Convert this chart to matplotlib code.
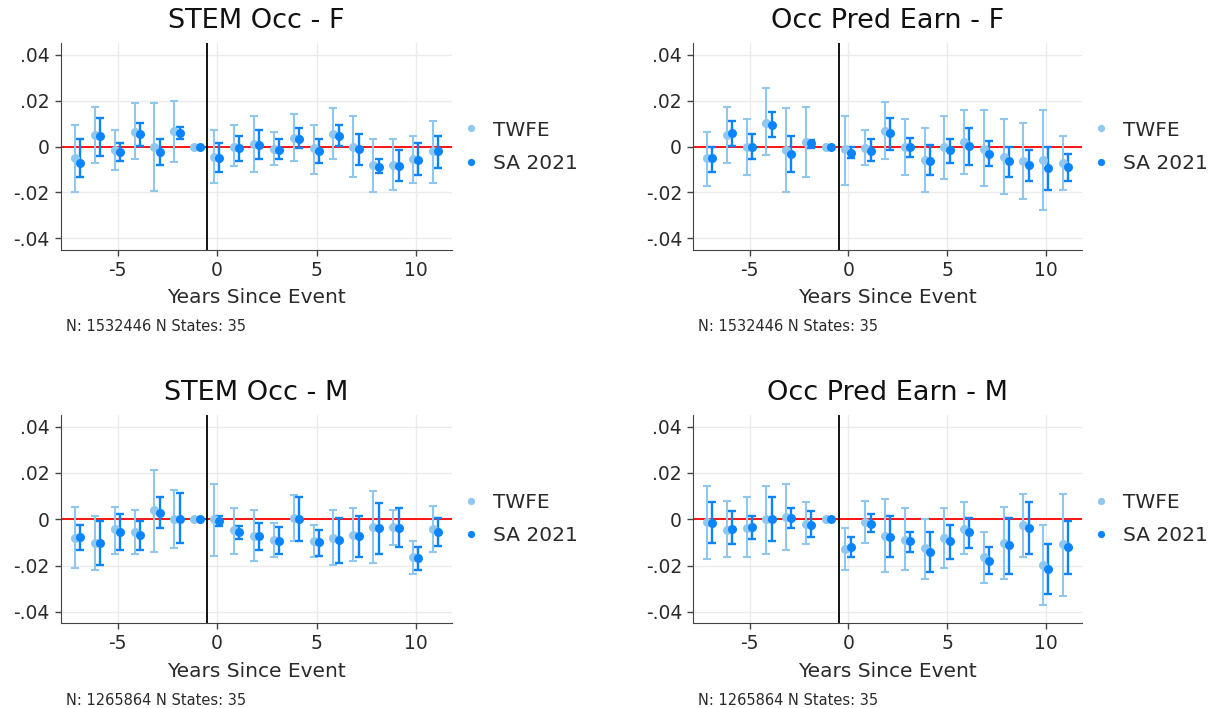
import numpy as np
import matplotlib
matplotlib.use("Agg")
import matplotlib.pyplot as plt

plt.rcParams["axes.unicode_minus"] = False

# event time: -1 is the omitted reference period
event_time = np.arange(-7, 12)

# ---- STEM Occ - F ----
stem_f_twfe = [-0.0051, 0.0050, -0.0013, 0.0064, -0.0003, 0.0066, 0.0, -0.0044, 0.0000, 0.0012,
               -0.0009, 0.0037, -0.0007, 0.0056, -0.0004, -0.0082, -0.0080, -0.0056, -0.0020]
stem_f_twfe_lo = [-0.0199, -0.0073, -0.0102, -0.0056, -0.0192, -0.0066, np.nan, -0.0158, -0.0086, -0.0111,
                  -0.0080, -0.0063, -0.0120, -0.0056, -0.0133, -0.0198, -0.0190, -0.0158, -0.0158]
stem_f_twfe_hi = [0.0095, 0.0174, 0.0072, 0.0190, 0.0190, 0.0199, np.nan, 0.0072, 0.0094, 0.0135,
                  0.0063, 0.0140, 0.0095, 0.0167, 0.0133, 0.0032, 0.0032, 0.0047, 0.0111]
stem_f_sa = [-0.0073, 0.0044, -0.0025, 0.0053, -0.0023, 0.0060, 0.0, -0.0048, -0.0008, 0.0007,
             -0.0015, 0.0035, -0.0019, 0.0047, -0.0012, -0.0089, -0.0085, -0.0059, -0.0020]
stem_f_sa_lo = [-0.0133, -0.0040, -0.0063, 0.0001, -0.0079, 0.0035, np.nan, -0.0111, -0.0063, -0.0056,
                -0.0056, -0.0007, -0.0072, 0.0001, -0.0080, -0.0117, -0.0152, -0.0126, -0.0094]
stem_f_sa_hi = [0.0032, 0.0126, 0.0016, 0.0102, 0.0032, 0.0086, np.nan, 0.0016, 0.0047, 0.0072,
                0.0032, 0.0079, 0.0032, 0.0094, 0.0056, -0.0056, -0.0016, 0.0015, 0.0047]

# ---- Occ Pred Earn - F ----
earn_f_twfe = [-0.0051, 0.0051, -0.0004, 0.0104, -0.0015, 0.0020, 0.0, -0.0012, -0.0007, 0.0067,
               0.0000, -0.0060, -0.0004, 0.0018, -0.0009, -0.0044, -0.0063, -0.0060, -0.0073]
earn_f_twfe_lo = [-0.0173, -0.0073, -0.0126, -0.0038, -0.0199, -0.0133, np.nan, -0.0167, -0.0079, -0.0056,
                  -0.0126, -0.0199, -0.0141, -0.0119, -0.0173, -0.0205, -0.0230, -0.0277, -0.0190]
earn_f_twfe_hi = [0.0063, 0.0174, 0.0119, 0.0253, 0.0167, 0.0174, np.nan, 0.0133, 0.0073, 0.0192,
                  0.0119, 0.0079, 0.0135, 0.0158, 0.0158, 0.0119, 0.0102, 0.0158, 0.0047]
earn_f_sa = [-0.0051, 0.0057, -0.0003, 0.0092, -0.0031, 0.0015, 0.0, -0.0026, -0.0019, 0.0057,
             -0.0004, -0.0061, -0.0016, 0.0003, -0.0031, -0.0064, -0.0080, -0.0092, -0.0091]
earn_f_sa_lo = [-0.0111, 0.0003, -0.0056, 0.0040, -0.0110, -0.0007, np.nan, -0.0051, -0.0063, -0.0015,
                -0.0047, -0.0126, -0.0073, -0.0079, -0.0086, -0.0133, -0.0151, -0.0190, -0.0151]
earn_f_sa_hi = [0.0000, 0.0111, 0.0054, 0.0152, 0.0047, 0.0028, np.nan, -0.0003, 0.0034, 0.0126,
                0.0038, 0.0007, 0.0032, 0.0079, 0.0023, 0.0000, -0.0015, 0.0000, -0.0032]

# ---- STEM Occ - M ----
stem_m_twfe = [-0.0079, -0.0104, -0.0044, -0.0053, 0.0039, 0.0001, 0.0, 0.0000, -0.0048, -0.0072,
               -0.0089, 0.0004, -0.0092, -0.0082, -0.0067, -0.0034, -0.0034, -0.0162, -0.0041]
stem_m_twfe_lo = [-0.0212, -0.0219, -0.0150, -0.0150, -0.0142, -0.0123, np.nan, -0.0158, -0.0150, -0.0181,
                  -0.0165, -0.0092, -0.0165, -0.0197, -0.0181, -0.0188, -0.0111, -0.0235, -0.0140]
stem_m_twfe_hi = [0.0055, 0.0014, 0.0055, 0.0041, 0.0215, 0.0127, np.nan, 0.0152, 0.0048, 0.0041,
                  -0.0016, 0.0104, -0.0023, 0.0041, 0.0048, 0.0120, 0.0041, -0.0095, 0.0057]
stem_m_sa = [-0.0076, -0.0104, -0.0053, -0.0067, 0.0028, 0.0001, 0.0, -0.0006, -0.0053, -0.0074,
             -0.0092, 0.0000, -0.0099, -0.0089, -0.0074, -0.0036, -0.0036, -0.0166, -0.0053]
stem_m_sa_lo = [-0.0133, -0.0196, -0.0133, -0.0133, -0.0038, -0.0102, np.nan, -0.0029, -0.0085, -0.0133,
                -0.0150, -0.0092, -0.0158, -0.0191, -0.0165, -0.0150, -0.0118, -0.0219, -0.0117]
stem_m_sa_hi = [-0.0023, -0.0006, 0.0023, -0.0006, 0.0095, 0.0112, np.nan, 0.0016, -0.0031, -0.0016,
                -0.0032, 0.0095, -0.0045, 0.0007, 0.0016, 0.0072, 0.0048, -0.0118, 0.0007]

# ---- Occ Pred Earn - M ----
earn_m_twfe = [-0.0013, -0.0047, -0.0036, 0.0000, 0.0009, -0.0020, 0.0, -0.0128, -0.0013, -0.0073,
               -0.0089, -0.0124, -0.0082, -0.0042, -0.0165, -0.0101, -0.0025, -0.0199, -0.0108]
earn_m_twfe_lo = [-0.0172, -0.0165, -0.0165, -0.0150, -0.0133, -0.0109, np.nan, -0.0220, -0.0101, -0.0229,
                  -0.0220, -0.0260, -0.0212, -0.0150, -0.0276, -0.0260, -0.0165, -0.0371, -0.0330]
earn_m_twfe_hi = [0.0143, 0.0080, 0.0095, 0.0143, 0.0152, 0.0073, np.nan, -0.0038, 0.0080, 0.0088,
                  0.0048, 0.0000, 0.0048, 0.0073, -0.0054, 0.0055, 0.0111, -0.0023, 0.0111]
earn_m_sa = [-0.0016, -0.0041, -0.0034, 0.0000, 0.0004, -0.0026, 0.0, -0.0121, -0.0019, -0.0076,
             -0.0095, -0.0140, -0.0096, -0.0057, -0.0180, -0.0112, -0.0038, -0.0216, -0.0121]
earn_m_sa_lo = [-0.0104, -0.0109, -0.0085, -0.0093, -0.0038, -0.0077, np.nan, -0.0165, -0.0053, -0.0165,
                -0.0140, -0.0229, -0.0172, -0.0124, -0.0236, -0.0236, -0.0150, -0.0323, -0.0236]
earn_m_sa_hi = [0.0073, 0.0034, 0.0016, 0.0095, 0.0048, 0.0034, np.nan, -0.0077, 0.0023, 0.0016,
                -0.0054, -0.0054, -0.0023, 0.0007, -0.0118, 0.0007, 0.0073, -0.0109, -0.0006]

panel_titles = ["STEM Occ - F", "Occ Pred Earn - F", "STEM Occ - M", "Occ Pred Earn - M"]
panel_notes = ["N: 1532446 N States: 35", "N: 1532446 N States: 35",
               "N: 1265864 N States: 35", "N: 1265864 N States: 35"]
panel_data = [
    (stem_f_twfe, stem_f_twfe_lo, stem_f_twfe_hi, stem_f_sa, stem_f_sa_lo, stem_f_sa_hi),
    (earn_f_twfe, earn_f_twfe_lo, earn_f_twfe_hi, earn_f_sa, earn_f_sa_lo, earn_f_sa_hi),
    (stem_m_twfe, stem_m_twfe_lo, stem_m_twfe_hi, stem_m_sa, stem_m_sa_lo, stem_m_sa_hi),
    (earn_m_twfe, earn_m_twfe_lo, earn_m_twfe_hi, earn_m_sa, earn_m_sa_lo, earn_m_sa_hi),
]
y_ticks = [-0.04, -0.02, 0, 0.02, 0.04]
y_ticklabels = ["-.04", "-.02", "0", ".02", ".04"]

C_TWFE = "#8fc7ee"
C_SA = "#0a84ff"
TXT = "#2a2a2a"

fig = plt.figure(figsize=(12.14, 7.08), dpi=100)
positions = [(0.0502, 0.647, 0.322, 0.292), (0.571, 0.647, 0.320, 0.292),
             (0.0502, 0.1196, 0.322, 0.294), (0.571, 0.1196, 0.320, 0.294)]


def draw_series(ax, x, est, lo, hi, color, lw, label):
    est, lo, hi = map(np.asarray, (est, lo, hi))
    ok = ~np.isnan(lo)
    ax.errorbar(x[ok], est[ok], yerr=[est[ok] - lo[ok], hi[ok] - est[ok]], fmt="none",
                ecolor=color, elinewidth=lw, capsize=2.8, capthick=lw, zorder=3)
    ax.plot(x, est, "o", color=color, ms=6.5, mec="none", zorder=4, label=label)


for pos, title, note, d in zip(positions, panel_titles, panel_notes, panel_data):
    ax = fig.add_axes(pos)
    ax.grid(True, color="#ebebeb", lw=1)
    ax.set_axisbelow(True)
    ax.axhline(0, color="red", lw=1.3, zorder=2)
    ax.axvline(-0.5, color="black", lw=1.3, zorder=2)
    draw_series(ax, event_time - 0.15, d[0], d[1], d[2], C_TWFE, 1.5, "TWFE")
    draw_series(ax, event_time + 0.12, d[3], d[4], d[5], C_SA, 1.7, "SA 2021")
    ax.set_xlim(-7.85, 11.8)
    ax.set_ylim(-0.045, 0.045)
    ax.set_xticks([-5, 0, 5, 10])
    ax.set_yticks(y_ticks)
    ax.set_yticklabels(y_ticklabels)
    ax.tick_params(labelsize=13.5, color="#444444", labelcolor=TXT, length=4, width=1, pad=4)
    for s in ("top", "right"):
        ax.spines[s].set_visible(False)
    for s in ("left", "bottom"):
        ax.spines[s].set_color("#444444")
    ax.set_title(title, fontsize=19.5, pad=11, color="#111111")
    ax.set_xlabel("Years Since Event", fontsize=14.5, labelpad=6, color=TXT)
    ax.text(0.012, -0.37, note, transform=ax.transAxes, fontsize=10.5, va="center", color=TXT)
    ax.legend(loc="center left", bbox_to_anchor=(0.95, 0.5), frameon=False, fontsize=14.5,
              handletextpad=0.1, markerscale=0.8, labelspacing=0.7, labelcolor=TXT)

fig.savefig("out.png", dpi=100)
